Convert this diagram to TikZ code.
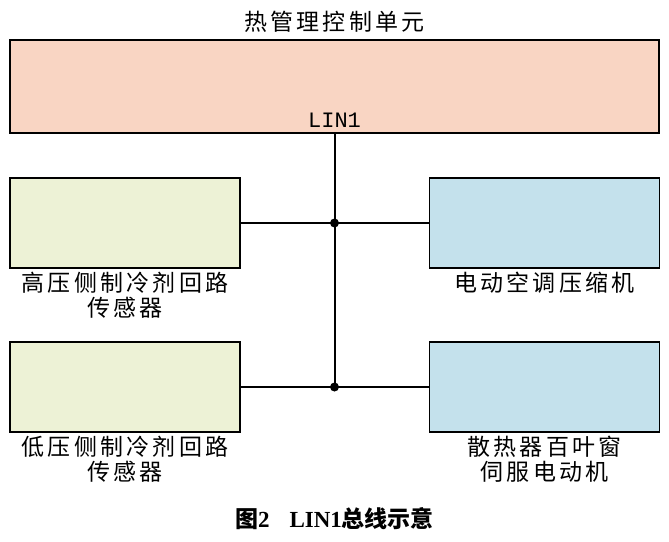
\documentclass[tikz,border=0pt]{standalone}
\usepackage{fontspec}
\setmainfont{Liberation Serif}
\setmonofont{Liberation Mono}
\newfontfamily\cjk[LetterSpace=14]{Noto Sans CJK SC}
\newfontfamily\cjkcap{Noto Sans CJK SC}
\usetikzlibrary{positioning}
\definecolor{ecupeach}{HTML}{F9D5C3}
\definecolor{sensgreen}{HTML}{EDF2D6}
\definecolor{actblue}{HTML}{C4E1EC}
\tikzset{
  unitbox/.style={draw, line width=1.6pt, minimum width=230pt, minimum height=90pt, inner sep=0pt},
  cnlabel/.style={font=\cjk\fontsize{23}{25}\selectfont, align=center},
  busline/.style={line width=2pt}
}
\begin{document}
\begin{tikzpicture}[x=1pt,y=-1pt]
    \useasboundingbox (0,0) rectangle (669,541);
    \node[draw, line width=1.6pt, fill=ecupeach, minimum width=649pt, minimum height=93pt, inner sep=0pt] (ecu) at (334.5,86.5) {};
    \node[cnlabel] (ecut) at (334.5,22) {热管理控制单元};
    \node[font=\ttfamily\fontsize{22}{24}\selectfont] (lin) at (334.5,120) {LIN1};

    \node[unitbox, fill=sensgreen] (hps) at (125,223) {};
    \node[unitbox, fill=sensgreen] (lps) at (125,387) {};
    \node[unitbox, fill=actblue]   (cmp) at (544.5,223) {};
    \node[unitbox, fill=actblue]   (srv) at (544.5,387) {};

    \node[cnlabel, below=0pt of hps] (hpst) {高压侧制冷剂回路\\传感器};
    \node[cnlabel, below=0pt of lps] (lpst) {低压侧制冷剂回路\\传感器};
    \node[cnlabel, below=0pt of cmp] (cmpt) {电动空调压缩机};
    \node[cnlabel, below=0pt of srv] (srvt) {散热器百叶窗\\伺服电动机};

    \coordinate (j1) at (334.5,223);
    \coordinate (j2) at (334.5,387);
    \draw[busline] (ecu.south -| j1) -- (j2);
    \draw[busline] (hps.east) -- (cmp.west);
    \draw[busline] (lps.east) -- (srv.west);
    \fill (j1) circle (4.5pt);
    \fill (j2) circle (4.5pt);

    \node[font=\bfseries\fontsize{23}{25}\selectfont] (cap) at (334.5,519) {{\cjkcap\bfseries 图}2\hspace{20pt}LIN1{\cjkcap\bfseries 总线示意}};
\end{tikzpicture}
\end{document}
